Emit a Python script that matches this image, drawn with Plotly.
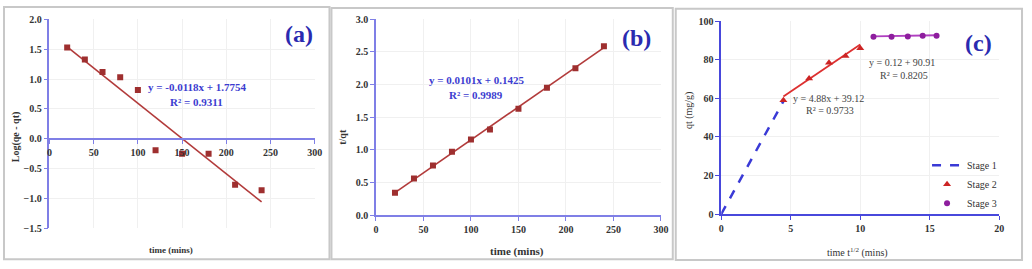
import plotly.graph_objects as go
import numpy as np

W, H = 1032, 269
def px(x): return x / W
def py(y): return 1 - y / H

# ---- data ----
time_min = [20, 40, 60, 80, 100, 120, 150, 180, 210, 240]
log_qe_qt = [1.53, 1.33, 1.12, 1.03, 0.82, -0.19, -0.25, -0.25, -0.77, -0.86]
fit_a = [-0.0118, 1.7754]
t_over_qt = [0.34, 0.56, 0.76, 0.97, 1.16, 1.31, 1.63, 1.95, 2.25, 2.59]
fit_b = [0.0101, 0.1425]

stage1_x = [0.0, 4.47]
stage1_y = [0.0, 58.5]
stage2_x = [4.47, 6.32, 7.75, 8.94, 10.0]
stage2_y = [59.0, 70.3, 78.5, 82.0, 86.0]
fit_c2 = [4.88, 39.12]
stage3_x = [10.95, 12.25, 13.42, 14.49, 15.49]
stage3_y = [92.0, 92.0, 92.1, 92.5, 92.5]
fit_c3 = [0.12, 90.91]

serif = "Liberation Serif, Times New Roman, serif"
axis_blue = "#7f7fe6"
red_dark = "#9e2f2f"
red_line = "#b23b3b"

fig = go.Figure()

# panel a
xa = np.array([time_min[0], time_min[-1]])
fig.add_trace(go.Scatter(x=xa, y=fit_a[0]*xa + fit_a[1], mode="lines",
                         line=dict(color=red_line, width=1.6), showlegend=False,
                         xaxis="x", yaxis="y"))
fig.add_trace(go.Scatter(x=time_min, y=log_qe_qt, mode="markers",
                         marker=dict(symbol="square", size=6, color=red_dark),
                         showlegend=False, xaxis="x", yaxis="y"))
# panel b
fig.add_trace(go.Scatter(x=xa, y=fit_b[0]*xa + fit_b[1], mode="lines",
                         line=dict(color=red_line, width=1.6), showlegend=False,
                         xaxis="x2", yaxis="y2"))
fig.add_trace(go.Scatter(x=time_min, y=t_over_qt, mode="markers",
                         marker=dict(symbol="square", size=6, color=red_dark),
                         showlegend=False, xaxis="x2", yaxis="y2"))
# panel c
fig.add_trace(go.Scatter(x=stage1_x, y=stage1_y, mode="lines", name="Stage 1",
                         line=dict(color="#3a3ad6", width=2.5, dash="dash"),
                         xaxis="x3", yaxis="y3"))
x2 = np.array([stage2_x[0], stage2_x[-1]])
fig.add_trace(go.Scatter(x=x2, y=fit_c2[0]*x2 + fit_c2[1], mode="lines",
                         line=dict(color="#dd3030", width=1.8), showlegend=False,
                         xaxis="x3", yaxis="y3"))
fig.add_trace(go.Scatter(x=stage2_x, y=stage2_y, mode="markers", name="Stage 2",
                         marker=dict(symbol="triangle-up", size=7, color="#cc2424"),
                         xaxis="x3", yaxis="y3"))
x3 = np.array([stage3_x[0], stage3_x[-1]])
fig.add_trace(go.Scatter(x=x3, y=fit_c3[0]*x3 + fit_c3[1], mode="lines",
                         line=dict(color="#b040c0", width=1.8), showlegend=False,
                         xaxis="x3", yaxis="y3"))
fig.add_trace(go.Scatter(x=stage3_x, y=stage3_y, mode="markers", name="Stage 3",
                         marker=dict(symbol="circle", size=6, color="#8e1e9e"),
                         xaxis="x3", yaxis="y3"))

tickf = dict(family=serif, size=10, color="#333333", weight="bold")
grid = "#f0f0f0"

def xax(dom, rng, dtick, anchor, color, pos=None):
    d = dict(domain=[px(dom[0]), px(dom[1])], range=rng, dtick=dtick,
             showline=True, linecolor=color, linewidth=1.6, ticks="outside",
             ticklen=4, tickcolor=color, tickfont=tickf, showgrid=True,
             gridcolor=grid, zeroline=False, fixedrange=True)
    if pos is not None:
        d.update(anchor="free", position=pos)
    else:
        d.update(anchor=anchor)
    return d

def yax(dom, rng, dtick, anchor, color, fmt=None):
    d = dict(domain=[py(dom[1]), py(dom[0])], range=rng, dtick=dtick,
             anchor=anchor, showline=True, linecolor=color, linewidth=1.6,
             ticks="outside", ticklen=4, tickcolor=color, tickfont=tickf,
             showgrid=True, gridcolor=grid, zeroline=False, fixedrange=True)
    if fmt:
        d["tickformat"] = fmt
    return d

fig.update_layout(
    width=W, height=H, margin=dict(l=0, r=0, t=0, b=0),
    paper_bgcolor="white", plot_bgcolor="white",
    font=dict(family=serif, size=10, color="#333333"),
    xaxis=xax((47, 315), [0, 300], 50, "y", axis_blue, pos=py(140)),
    yaxis=yax((15, 233), [-1.5, 2.0], 0.5, "x", axis_blue, ".1f"),
    xaxis2=xax((377, 665), [0, 300], 50, "y2", axis_blue),
    yaxis2=yax((15, 219), [0, 3.0], 0.5, "x2", axis_blue, ".1f"),
    xaxis3=xax((726, 1007), [0, 20], 5, "y3", "#4848dc"),
    yaxis3=yax((17, 218), [0, 100], 20, "x3", "#4848dc"),
    legend=dict(x=px(934), y=py(152), xanchor="left", yanchor="top",
                font=dict(family=serif, size=10, color="#333333"),
                bgcolor="rgba(0,0,0,0)", itemwidth=30, tracegroupgap=1),
    showlegend=True,
)

ann = []
def text(x, y, s, size=10, color="#333333", bold=False, angle=0):
    ann.append(dict(x=px(x), y=py(y), xref="paper", yref="paper", text=s,
                    showarrow=False, textangle=angle, xanchor="center", yanchor="middle",
                    font=dict(family=serif, size=size, color=color,
                              weight="bold" if bold else "normal")))

blue_txt = "#3c3cd0"
text(197, 86, "y = -0.0118x + 1.7754", 11, blue_txt, True)
text(196, 101, "R² = 0.9311", 11, blue_txt, True)
text(479, 78, "y = 0.0101x + 0.1425", 11, blue_txt, True)
text(478, 94, "R² = 0.9989", 11, blue_txt, True)
text(834, 97, "y = 4.88x + 39.12", 10, "#444444")
text(836, 110, "R² = 0.9733", 10, "#444444")
text(909, 60, "y = 0.12 + 90.91", 10, "#444444")
text(911, 74, "R² = 0.8205", 10, "#444444")
text(299, 30, "(a)", 24, "#2a2ab0", True)
text(640, 34, "(b)", 24, "#2a2ab0", True)
text(986, 40, "(c)", 24, "#2a2ab0", True)
text(170, 255, "time (mins)", 9, "#333333", True)
text(520, 257, "time (mins)", 11, "#333333", True)
text(864, 258, "time t<sup>1/2</sup> (mins)", 10, "#333333")
text(14, 137, "Log(qe - qt)", 10, "#333333", True, -90)
text(343, 137, "t/qt", 10, "#333333", True, -90)
text(693, 110, "qt (mg/g)", 10, "#333333", False, -90)
fig.update_layout(annotations=ann)

shapes = []
for (x0, y0, x1, y1) in [(1, 2, 330, 265), (332, 3, 677, 265), (680, 4, 1030, 266)]:
    shapes.append(dict(type="rect", xref="paper", yref="paper",
                       x0=px(x0), x1=px(x1), y0=py(y1), y1=py(y0),
                       line=dict(color="#c8c8c8", width=2), fillcolor="rgba(0,0,0,0)"))
fig.update_layout(shapes=shapes)

fig.write_html("out.html")
